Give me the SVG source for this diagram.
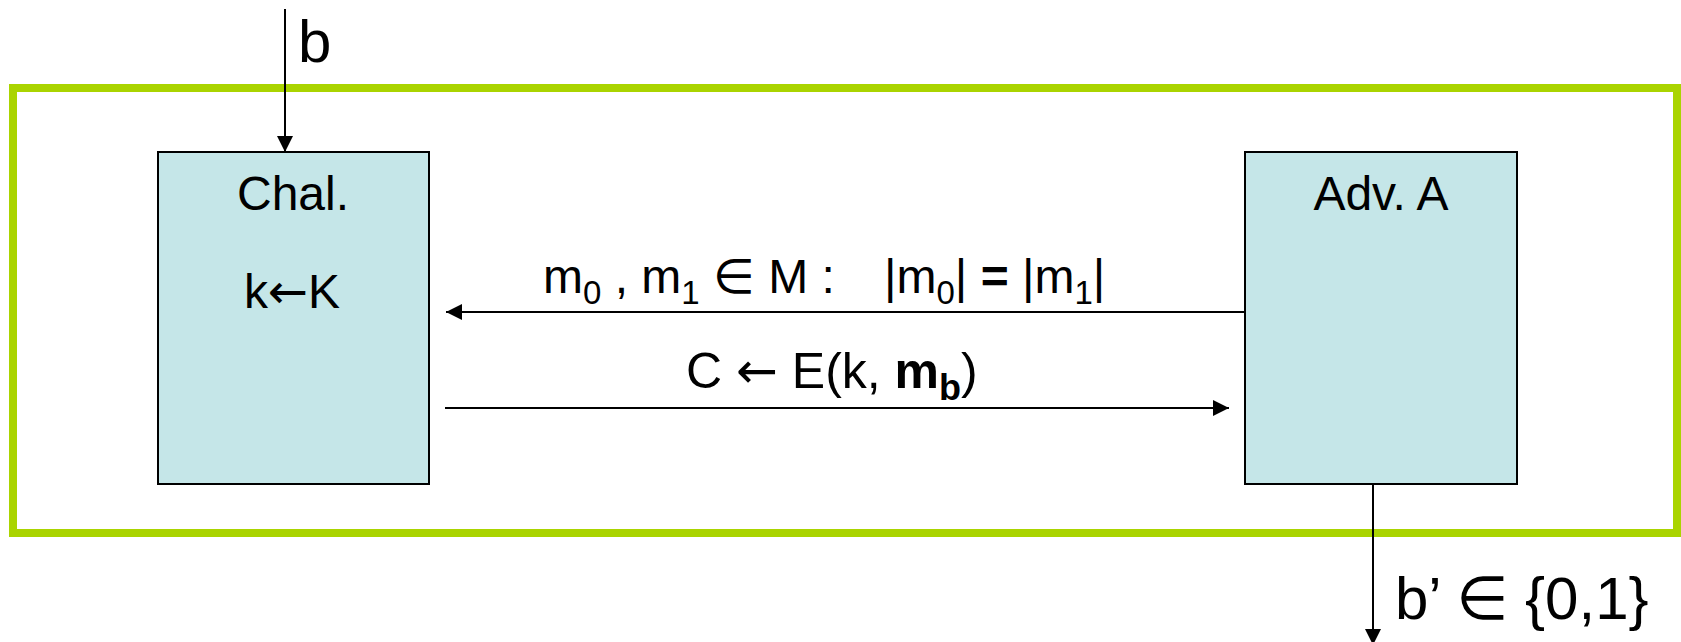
<svg xmlns="http://www.w3.org/2000/svg" width="1681" height="642" viewBox="0 0 1681 642">
  <style>
    .t { font-family: "Liberation Sans", Arial, "DejaVu Sans", sans-serif; fill: #000; }
    .lbl { font-size: 48px; }
    .big { font-size: 60px; }
    .sub { font-size: 33px; }
    .ar { font-family: "DejaVu Sans", sans-serif; }
    .box { fill: #C5E6E8; stroke: #000; stroke-width: 2; }
    .frame { fill: none; stroke: #AAD400; stroke-width: 8; }
    .conn { stroke: #000; stroke-width: 2; fill: none; }
  </style>
  <defs>
    <marker id="arr" markerUnits="userSpaceOnUse" markerWidth="16" markerHeight="16" refX="16" refY="8" orient="auto">
      <path d="M0,0 L16,8 L0,16 Z" fill="#000"/>
    </marker>
  </defs>
  <rect width="1681" height="642" fill="#fff"/>

  <g id="frame">
    <rect class="frame" x="13" y="88" width="1664" height="445"/>
  </g>

  <g id="chal">
    <rect class="box" x="158" y="152" width="271" height="332"/>
    <text class="t lbl" x="293" y="210" text-anchor="middle">Chal.</text>
    <text class="t lbl" x="292" y="308" text-anchor="middle">k<tspan class="ar">←</tspan>K</text>
  </g>

  <g id="adv">
    <rect class="box" x="1245" y="152" width="272" height="332"/>
    <text class="t lbl" x="1381" y="210" text-anchor="middle">Adv. A</text>
  </g>

  <g id="connectors">
    <line class="conn" x1="285" y1="9" x2="285" y2="152" marker-end="url(#arr)"/>
    <text class="t big" x="298" y="62">b</text>

    <line class="conn" x1="1245" y1="312" x2="446" y2="312" marker-end="url(#arr)"/>
    <text class="t lbl" x="543" y="293">m<tspan class="sub" dy="11">0</tspan><tspan dy="-11"> , m</tspan><tspan class="sub" dy="11">1</tspan><tspan dy="-11"> ∈ M :</tspan></text>
    <text class="t lbl" x="884" y="293">|m<tspan class="sub" dy="11">0</tspan><tspan dy="-11">| </tspan><tspan font-weight="bold">=</tspan><tspan> |m</tspan><tspan class="sub" dy="11">1</tspan><tspan dy="-11">|</tspan></text>

    <line class="conn" x1="445" y1="408" x2="1229" y2="408" marker-end="url(#arr)"/>
    <text class="t" font-size="50" x="686" y="388">C <tspan class="ar">←</tspan> E(k, <tspan font-weight="bold">m</tspan><tspan font-size="36" font-weight="bold" dy="12">b</tspan><tspan dy="-12">)</tspan></text>

    <line class="conn" x1="1373" y1="484" x2="1373" y2="645" marker-end="url(#arr)"/>
    <text class="t big" x="1395" y="619">b’ ∈ {0,1}</text>
  </g>
</svg>
